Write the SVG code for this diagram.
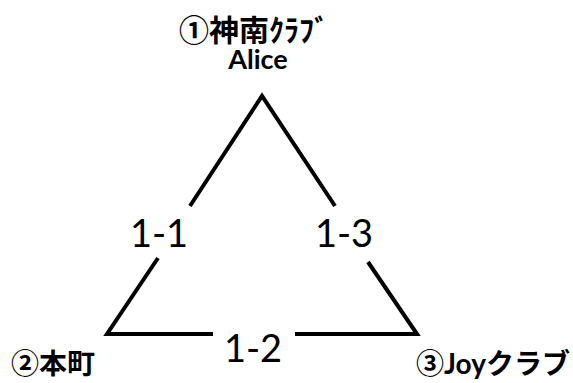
<svg xmlns="http://www.w3.org/2000/svg" width="573" height="383" viewBox="0 0 573 383">
<style>
.edge{stroke:#000;stroke-width:4;fill:none;stroke-linecap:butt;stroke-linejoin:miter}
.el{font-family:Lato,"Liberation Sans",sans-serif;font-size:38px;fill:#000;text-anchor:middle}
.nl{font-family:"Noto Sans CJK JP",sans-serif;font-weight:bold;fill:#000}
.en{font-family:Lato,"Noto Sans CJK JP",sans-serif;font-weight:bold;fill:#000}
</style>
<rect width="573" height="383" fill="#fff"/>
<g id="connectors">
<polyline class="edge" points="190,206 262,96 335,206"/>
<polyline class="edge" points="158,258 107,334 213,334"/>
<polyline class="edge" points="368,262 417,334 295,334"/>
<text class="el" x="159" y="247">1-1</text>
<text class="el" x="344" y="247">1-3</text>
<text class="el" x="253" y="362">1-2</text>
</g>
<g id="node1">
<text class="nl" x="179" y="41" font-size="30">①神南ｸﾗﾌﾞ</text>
<text class="en" x="258" y="69" font-size="27" text-anchor="middle">Alice</text>
</g>
<g id="node2">
<text class="nl" x="11" y="374" font-size="28">②本町</text>
</g>
<g id="node3">
<text class="nl" x="416" y="374" font-size="28">③<tspan class="en">Joy</tspan>クラブ</text>
</g>
</svg>
